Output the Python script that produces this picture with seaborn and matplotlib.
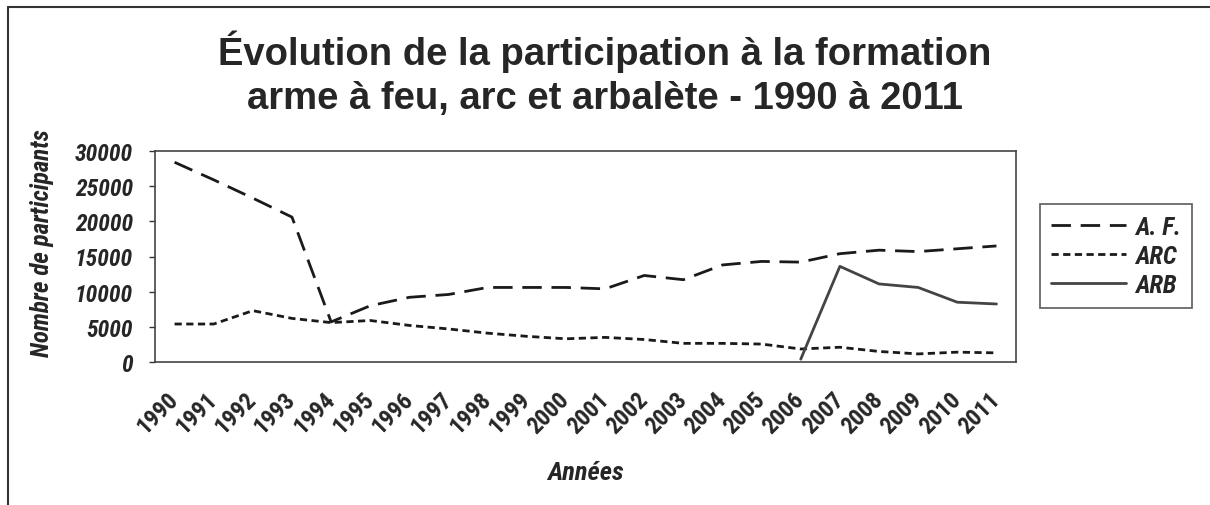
import numpy as np
import pandas as pd
import matplotlib
matplotlib.use("Agg")
import matplotlib.pyplot as plt
import matplotlib.lines as mlines
from matplotlib import font_manager
import seaborn as sns

# --- DATA ---
years = [str(y) for y in range(1990, 2012)]
af = [28400, 25900, 23300, 20600, 5700, 8000, 9200, 9600, 10600, 10600, 10600,
      10400, 12300, 11700, 13800, 14300, 14200, 15400, 15900, 15700, 16100, 16500]
arc = [5400, 5400, 7300, 6200, 5600, 5900, 5200, 4700, 4100, 3650, 3300,
       3500, 3200, 2650, 2650, 2550, 1850, 2100, 1500, 1150, 1400, 1300]
arb = [np.nan] * 16 + [400, 13600, 11100, 10600, 8500, 8250]
series_names = ["A. F.", "ARC", "ARB"]

# --- STYLE ---
sns.set_style("white")
installed = {f.name for f in font_manager.fontManager.ttflist}
narrow = [f for f in ['Roboto Condensed', 'Liberation Sans Narrow', 'DejaVu Sans Condensed']
          if f in installed]
plt.rcParams['font.family'] = narrow + ['Liberation Sans', 'DejaVu Sans']

df = pd.DataFrame({"year": years, "A. F.": af, "ARC": arc, "ARB": arb})
df["pos"] = np.arange(len(years))
long_df = df.melt(id_vars=["year", "pos"], value_vars=series_names,
                  var_name="serie", value_name="n")

fig = plt.figure(figsize=(12.1, 5.06), dpi=100)
ax = fig.add_axes([155 / 1210, 1 - 363 / 506, (1016 - 155) / 1210, (363 - 152) / 506])

colors = {"A. F.": "#1a1a1a", "ARC": "#1a1a1a", "ARB": "#444444"}
dashes = {"A. F.": (7, 3.5), "ARC": (2.6, 1.6), "ARB": ""}
sns.lineplot(data=long_df, x="pos", y="n", hue="serie", style="serie",
             palette=colors, dashes=dashes, linewidth=2, legend=False, ax=ax)

ax.set_xlim(-0.5, len(years) - 0.5)
ax.set_ylim(0, 30000)
ax.set_yticks(range(0, 30001, 5000))
ax.set_yticklabels([str(v) for v in range(0, 30001, 5000)],
                   fontsize=17, fontweight='heavy', fontstyle='italic')

ax.set_xticks(df["pos"])
ax.set_xticklabels(years, rotation=45, ha='right', va='center',
                   rotation_mode='anchor', fontsize=17, fontweight='heavy')
ax.set_xticks(np.arange(-0.5, len(years)), minor=True)
ax.tick_params(axis='x', which='major', length=0, pad=24)
ax.tick_params(axis='x', which='minor', length=4.5, width=1, color='#333333', direction='out')
ax.tick_params(axis='y', length=4, width=1, color='#333333', direction='out', pad=12, left=True)

for sp in ax.spines.values():
    sp.set_color('#444444')
    sp.set_linewidth(1.2)

ax.set_xlabel("Années", fontsize=19, fontweight='heavy', fontstyle='italic')
ax.xaxis.set_label_coords(0.5, -(461 - 363) / 211)
ax.set_ylabel("Nombre de participants", fontsize=18, fontweight='heavy',
              fontstyle='italic')
ax.yaxis.set_label_coords(-(155 - 54) / 861, (363 - 243) / 211)

title_font = ['Liberation Sans', 'DejaVu Sans']
fig.text(0.5, 1 - 52 / 506, "Évolution de la participation à la formation",
         ha='center', va='center', fontsize=27.5, fontweight='bold', family=title_font)
fig.text(0.5, 1 - 99 / 506, "arme à feu, arc et arbalète - 1990 à 2011",
         ha='center', va='center', fontsize=27.5, fontweight='bold', family=title_font)

handles = []
for s in series_names:
    h = mlines.Line2D([], [], color=colors[s], linewidth=2)
    if dashes[s]:
        h.set_dashes(dashes[s])
    handles.append(h)
leg = fig.legend(handles, series_names, loc='center left',
                 bbox_to_anchor=(1040 / 1210, 1 - 257 / 506),
                 frameon=True, fancybox=False, edgecolor='#333333',
                 handlelength=3.0, handletextpad=0.35, borderpad=0.45,
                 labelspacing=0.2, borderaxespad=0,
                 prop={'size': 18, 'weight': 'heavy', 'style': 'italic'})
leg.get_frame().set_linewidth(1.2)

# outer frame (top and left edges)
fig.add_artist(mlines.Line2D([8 / 1210, 8 / 1210], [0, 1 - 8 / 506],
                             transform=fig.transFigure, color='#333333', linewidth=1.5))
fig.add_artist(mlines.Line2D([8 / 1210, 1], [1 - 8 / 506, 1 - 8 / 506],
                             transform=fig.transFigure, color='#333333', linewidth=1.5))

fig.savefig("out.png", dpi=100)
